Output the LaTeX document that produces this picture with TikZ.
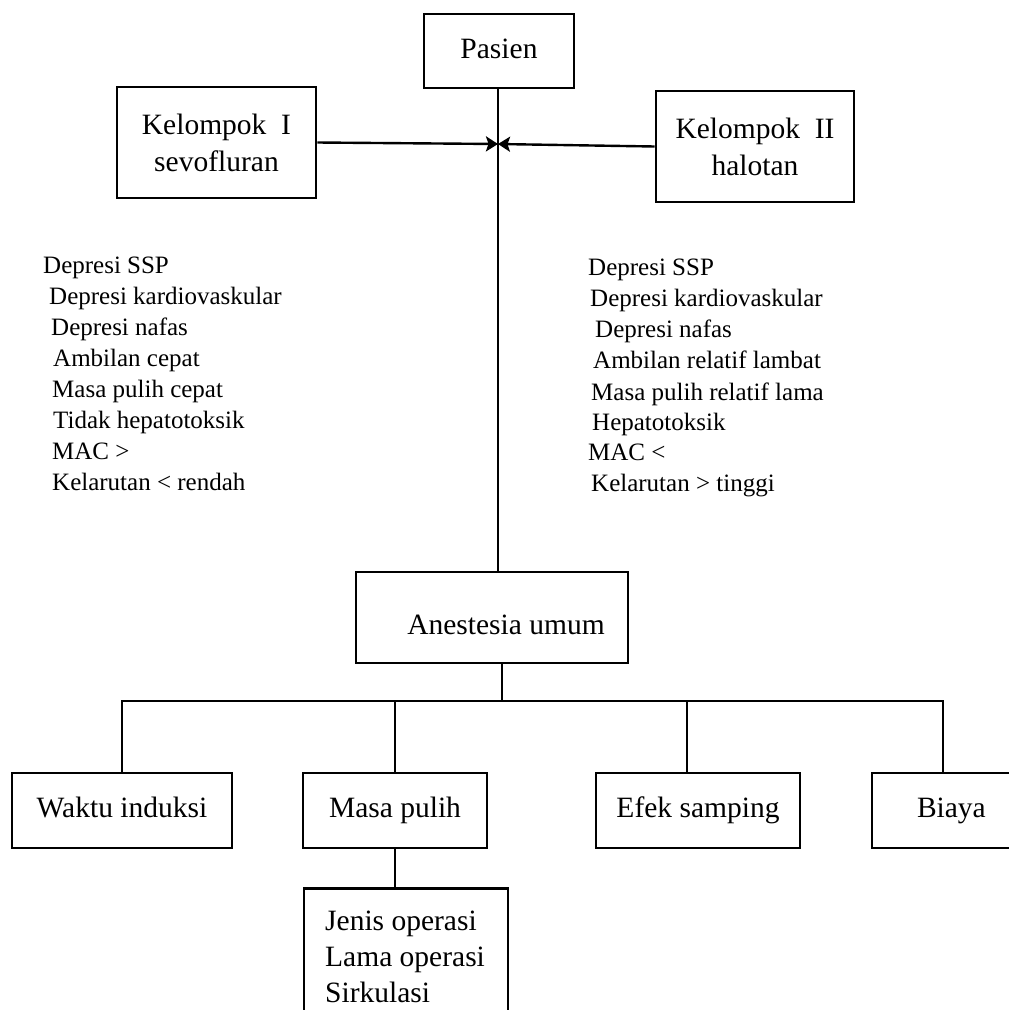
\documentclass[tikz,border=0pt]{standalone}
\usepackage{fontspec}
\setmainfont{Liberation Serif}
\usetikzlibrary{arrows.meta}
\newcommand{\bxfont}{\fontsize{29.5}{36}\selectfont}
\newcommand{\sdfont}{\fontsize{25}{31}\selectfont}
\begin{document}
\begin{tikzpicture}[x=1pt,y=-1pt,
  box/.style={draw, line width=2.6pt, inner sep=0pt, font=\bxfont, align=center},
  rowbox/.style={box, minimum height=75, text height=21pt, text depth=7pt},
  conn/.style={line width=2.4pt},
  side/.style={anchor=base west, inner sep=0pt, font=\sdfont},
  arr/.style={-{Stealth[length=12pt,width=15pt,inset=2.5pt]}}]
\useasboundingbox (0,0) rectangle (1009,1010);
\clip (0,0) rectangle (1009,1010);
\fill[white] (0,0) rectangle (1009,1010);

% top boxes
\node[box, minimum width=150, minimum height=74, text height=21pt, text depth=7pt] (pasien) at (499,51) {Pasien};
\node[box, minimum width=199, minimum height=111] (k1) at (216.5,142.5) {Kelompok\ \ I\\[1pt]sevofluran};
\node[box, minimum width=198, minimum height=111] (k2) at (755,146.5) {Kelompok\ \ II\\[1pt]halotan};

% middle box
\node[box, minimum width=272, minimum height=91,
  label={[font=\bxfont, xshift=14pt, yshift=-7pt]center:Anestesia umum}] (anest) at (492,617.5) {};

% junction and connectors at the top
\coordinate (j) at (498,144);
\draw[conn] (j |- pasien.south) -- (j |- anest.north);
\draw[conn, arr] (k1.east) -- (j);
\draw[conn, arr] (k2.west) -- (j);

% side lists
\node[side] (l1) at (43,273) {Depresi SSP};
\node[side] (l2) at (49,304) {Depresi kardiovaskular};
\node[side] (l3) at (51,335) {Depresi nafas};
\node[side] (l4) at (53,366) {Ambilan cepat};
\node[side] (l5) at (52,397) {Masa pulih cepat};
\node[side] (l6) at (53,428) {Tidak hepatotoksik};
\node[side] (l7) at (52,459) {MAC >};
\node[side] (l8) at (52,490) {Kelarutan < rendah};

\node[side] (r1) at (588,275) {Depresi SSP};
\node[side] (r2) at (590,306) {Depresi kardiovaskular};
\node[side] (r3) at (595,337) {Depresi nafas};
\node[side] (r4) at (593,368) {Ambilan relatif lambat};
\node[side] (r5) at (591,400) {Masa pulih relatif lama};
\node[side] (r6) at (592,430) {Hepatotoksik};
\node[side] (r7) at (588,460) {MAC <};
\node[side] (r8) at (591,491) {Kelarutan > tinggi};

% bottom row
\node[rowbox, minimum width=220] (waktu) at (122,810.5) {Waktu induksi};
\node[rowbox, minimum width=184] (masa) at (395,810.5) {Masa pulih};
\node[rowbox, minimum width=204] (efek) at (698,810.5) {Efek samping};
\node[rowbox, minimum width=168, text width=150, align=left] (biaya) at (956,810.5) {\hspace*{36pt}Biaya};
\node[box, minimum width=204, minimum height=150, anchor=north] (jenis) at (406,887) {};
\node[inner sep=0pt, font=\bxfont, align=left, anchor=base west] (jtext) at (325,1002) {Jenis operasi\\Lama operasi\\Sirkulasi};

% bus
\coordinate (stem) at (502,701);
\coordinate (b1) at (122,701);
\coordinate (b2) at (395,701);
\coordinate (b3) at (687,701);
\coordinate (b4) at (943,701);
\draw[conn] (anest.south -| stem) -- (stem);
\draw[conn, line cap=rect] (b1) -- (b4);
\draw[conn] (b1) -- (b1 |- waktu.north);
\draw[conn] (b2) -- (b2 |- masa.north);
\draw[conn] (b3) -- (b3 |- efek.north);
\draw[conn] (b4) -- (b4 |- biaya.north);
\draw[conn] (masa.south) -- (masa.south |- jenis.north);
\end{tikzpicture}
\end{document}
